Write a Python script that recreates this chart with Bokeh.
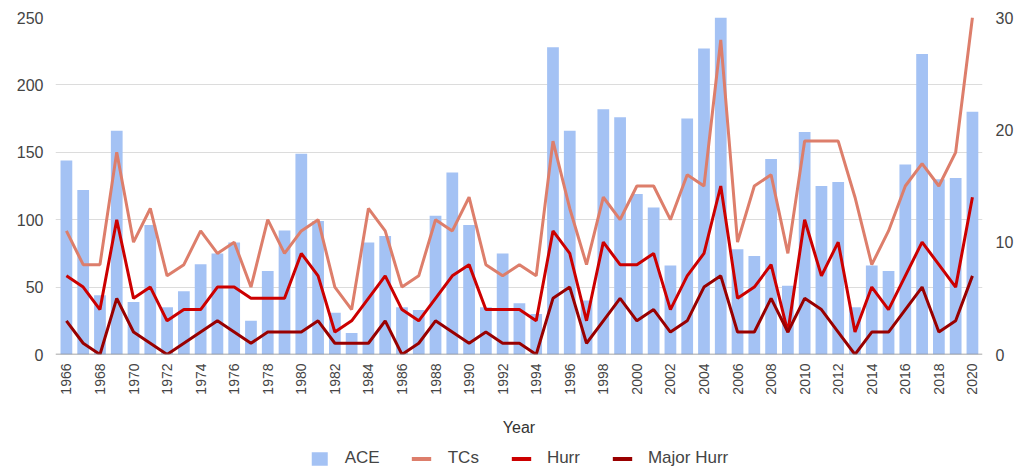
from bokeh.plotting import figure
from bokeh.layouts import column
from bokeh.models import Range1d, LinearAxis, FixedTicker, Legend, LegendItem, Span, ColumnDataSource
from bokeh.embed import file_html
from bokeh.resources import INLINE
import math

years = list(range(1966, 2021))
ace = [144, 122, 44, 166, 39, 96, 35, 47, 67, 75, 83, 25, 62, 92, 149,
       99, 31, 16, 83, 88, 35, 33, 103, 135, 96, 35, 75, 38, 30, 228,
       166, 40, 182, 176, 119, 109, 66, 175, 227, 250, 78, 73, 145, 51, 165,
       125, 128, 35, 66, 62, 141, 223, 130, 131, 180]
tcs = [11, 8, 8, 18, 10, 13, 7, 8, 11, 9, 10, 6, 12, 9, 11,
       12, 6, 4, 13, 11, 6, 7, 12, 11, 14, 8, 7, 8, 7, 19,
       13, 8, 14, 12, 15, 15, 12, 16, 15, 28, 10, 15, 16, 9, 19,
       19, 19, 14, 8, 11, 15, 17, 15, 18, 30]
hurr = [7, 6, 4, 12, 5, 6, 3, 4, 4, 6, 6, 5, 5, 5, 9,
        7, 2, 3, 5, 7, 4, 3, 5, 7, 8, 4, 4, 4, 3, 11,
        9, 3, 10, 8, 8, 9, 4, 7, 9, 15, 5, 6, 8, 2, 12,
        7, 10, 2, 6, 4, 7, 10, 8, 6, 14]
major = [3, 1, 0, 5, 2, 1, 0, 1, 2, 3, 2, 1, 2, 2, 2,
         3, 1, 1, 1, 3, 0, 1, 3, 2, 1, 2, 1, 1, 0, 5,
         6, 1, 3, 5, 3, 4, 2, 3, 6, 7, 2, 2, 5, 2, 5,
         4, 2, 0, 2, 2, 4, 6, 2, 3, 7]
year_ticks = list(range(1966, 2021, 2))
left_ticks = [0, 50, 100, 150, 200, 250]
right_ticks = [0, 10, 20, 30]
series_names = ["ACE", "TCs", "Hurr", "Major Hurr"]
series_colors = ["#a4c2f4", "#dd7e6b", "#cc0000", "#990000"]

src = ColumnDataSource(dict(year=years, ace=ace, tcs=tcs, hurr=hurr, major=major))

FONT = "Liberation Sans"
TXT = "#444444"

p = figure(width=1017, height=448,
           x_range=Range1d(1965.35, 2020.6), y_range=Range1d(0, 250),
           output_backend="svg", toolbar_location=None,
           min_border_left=55, min_border_right=33, min_border_top=17, min_border_bottom=94)
p.outline_line_color = None
p.extra_y_ranges = {"right": Range1d(0, 30)}

p.vbar(x="year", top="ace", width=0.7, source=src, color=series_colors[0], line_color=None)
p.line(x="year", y="tcs", source=src, y_range_name="right", line_color=series_colors[1], line_width=3)
p.line(x="year", y="hurr", source=src, y_range_name="right", line_color=series_colors[2], line_width=3)
p.line(x="year", y="major", source=src, y_range_name="right", line_color=series_colors[3], line_width=3)

p.add_layout(Span(location=0, dimension="width", line_color="#888888", line_width=1.5))


def style_axis(ax, size, standoff):
    ax.axis_line_color = None
    ax.major_tick_line_color = None
    ax.minor_tick_line_color = None
    ax.major_tick_out = 0
    ax.major_tick_in = 0
    ax.minor_tick_out = 0
    ax.minor_tick_in = 0
    ax.major_label_text_font = FONT
    ax.major_label_text_font_size = size
    ax.major_label_text_color = TXT
    ax.major_label_standoff = standoff


# left axis
ya = p.yaxis[0]
ya.ticker = FixedTicker(ticks=left_ticks)
style_axis(ya, "16px", 12)

# right axis
ra = LinearAxis(y_range_name="right", ticker=FixedTicker(ticks=right_ticks))
style_axis(ra, "16px", 13)
p.add_layout(ra, "right")

# x axis
xa = p.xaxis[0]
xa.ticker = FixedTicker(ticks=year_ticks)
xa.major_label_orientation = math.pi / 2
style_axis(xa, "14px", 9)
xa.axis_label = "Year"
xa.axis_label_text_font = FONT
xa.axis_label_text_font_size = "16px"
xa.axis_label_text_font_style = "normal"
xa.axis_label_text_color = "#333333"
xa.axis_label_standoff = 21

p.xgrid.grid_line_color = None
p.ygrid.grid_line_color = "#dcdcdc"
p.ygrid.ticker = FixedTicker(ticks=left_ticks)

# legend strip (a second figure holding only the legend; its swatch glyphs sit outside its view)
lf = figure(width=1017, height=20, x_range=Range1d(0, 1), y_range=Range1d(0, 1),
            output_backend="svg", toolbar_location=None,
            x_axis_location=None, y_axis_location=None,
            min_border_left=55, min_border_right=35, min_border_top=0, min_border_bottom=0)
lf.outline_line_color = None
lf.xgrid.grid_line_color = None
lf.ygrid.grid_line_color = None
hidden = ColumnDataSource(dict(x=[-5, -4], y=[-5, -4]))
g_ace = lf.vbar(x="x", top="y", width=0.5, source=hidden, color=series_colors[0], line_color=None)
g_tcs = lf.line(x="x", y="y", source=hidden, line_color=series_colors[1], line_width=4)
g_hurr = lf.line(x="x", y="y", source=hidden, line_color=series_colors[2], line_width=4)
g_major = lf.line(x="x", y="y", source=hidden, line_color=series_colors[3], line_width=4)

legend = Legend(items=[LegendItem(label=series_names[0], renderers=[g_ace]),
                       LegendItem(label=series_names[1], renderers=[g_tcs]),
                       LegendItem(label=series_names[2], renderers=[g_hurr]),
                       LegendItem(label=series_names[3], renderers=[g_major])],
                orientation="horizontal", location="center")
legend.label_text_font = FONT
legend.label_text_font_size = "17px"
legend.label_text_color = TXT
legend.border_line_color = None
legend.background_fill_alpha = 0
legend.padding = 0
legend.margin = 0
legend.spacing = 32
legend.glyph_width = 20
legend.glyph_height = 17
legend.label_standoff = 16
legend.label_height = 17
lf.add_layout(legend, "center")

layout = column(p, lf, spacing=0)
open("out.html", "w").write(file_html(layout, INLINE))
